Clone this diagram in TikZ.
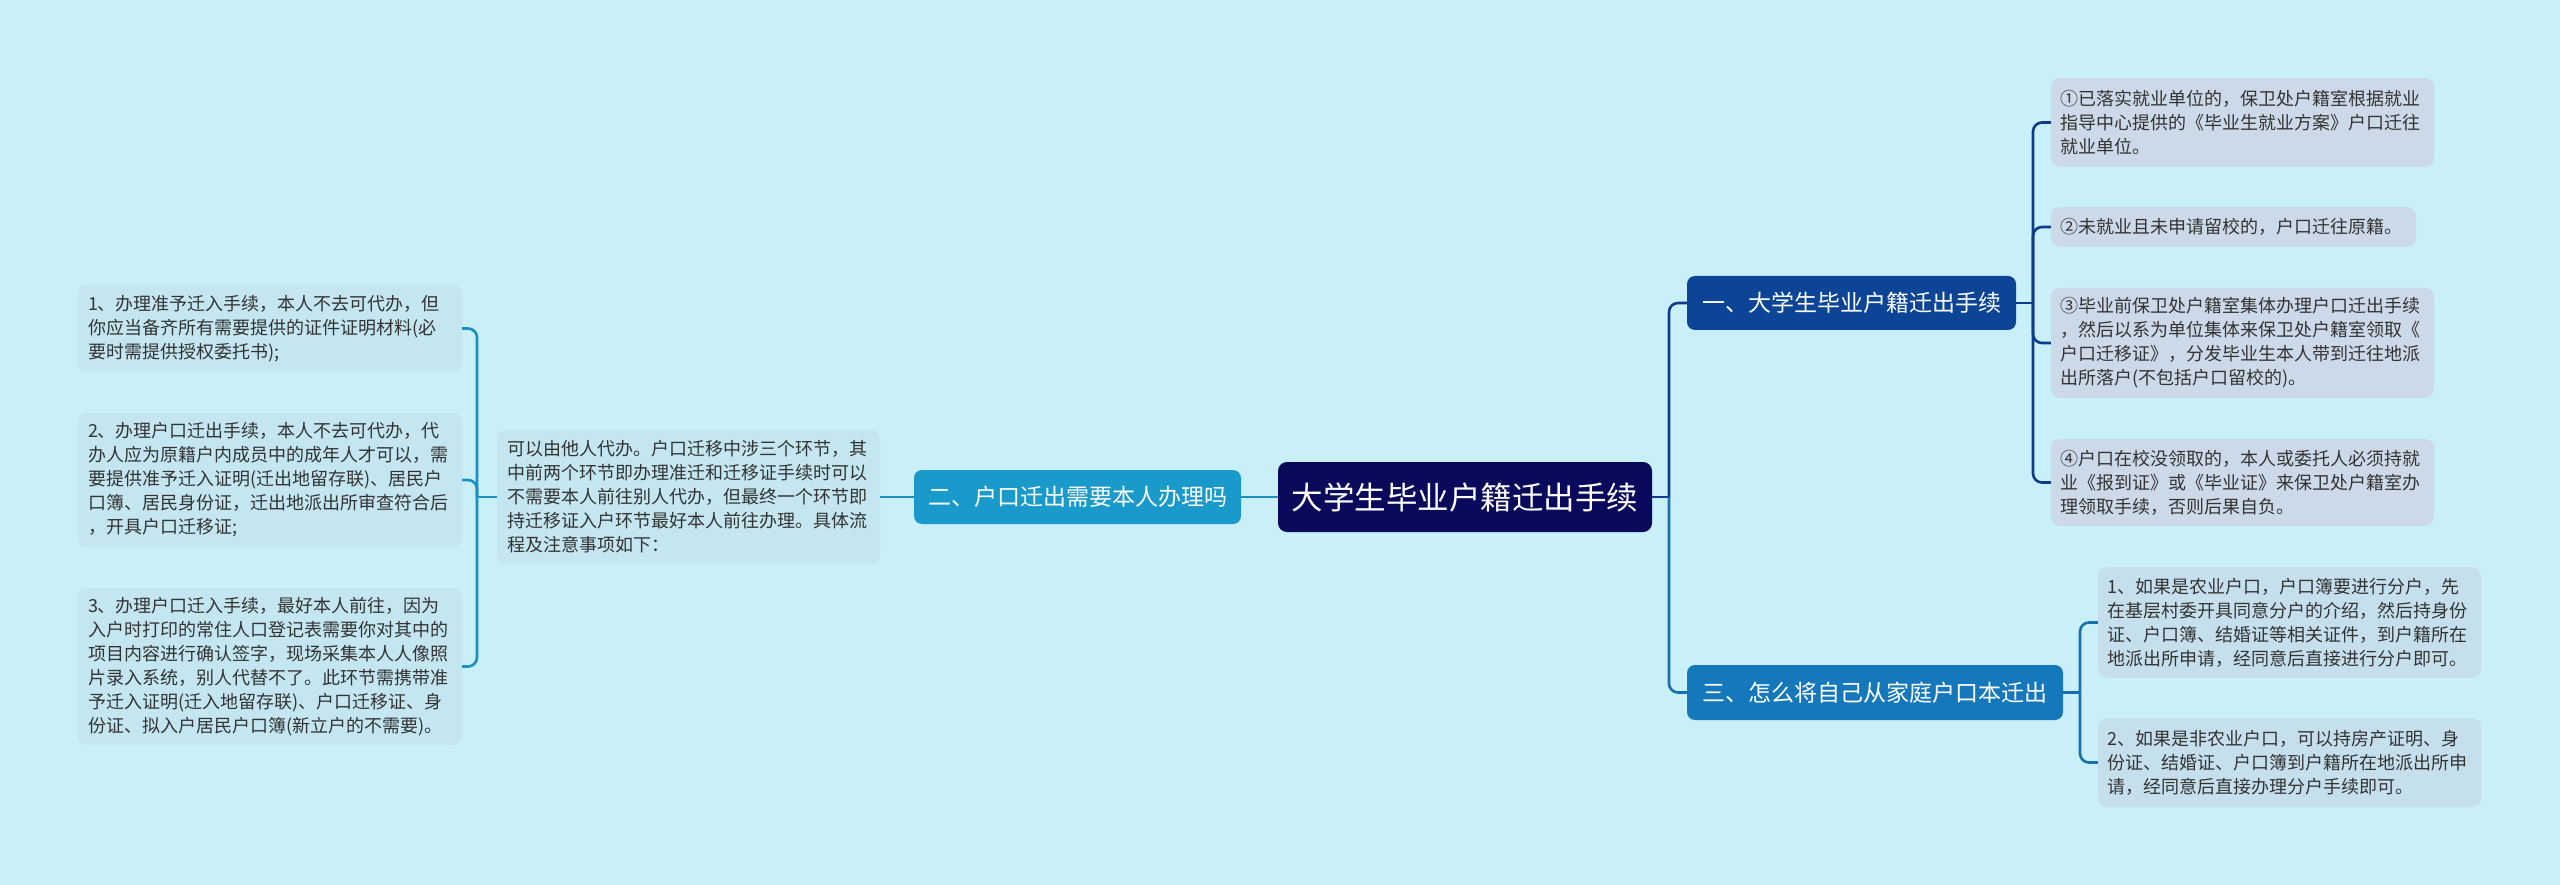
\documentclass[tikz,border=0pt]{standalone}
\usepackage{fontspec}
\setmainfont{Noto Sans CJK SC}
\definecolor{bg}{HTML}{C9EFF8}
\definecolor{cen}{HTML}{0A0A5C}
\definecolor{bone}{HTML}{0C4595}
\definecolor{btwo}{HTML}{1A9ACB}
\definecolor{bthree}{HTML}{1578BB}
\definecolor{lone}{HTML}{0E3C8C}
\definecolor{ltwo}{HTML}{1A8FC0}
\definecolor{lthree}{HTML}{1670AD}
\definecolor{fone}{HTML}{CCD9E8}
\definecolor{ftwo}{HTML}{C3E6F0}
\definecolor{fthree}{HTML}{C5E0EC}
\definecolor{txt}{HTML}{333333}
\tikzset{
  leafbox/.style={rounded corners=9pt, inner xsep=0pt, inner ysep=0pt, align=left,
    font=\fontsize{18}{24}\selectfont, text=txt},
  branchbox/.style={rounded corners=8pt, inner sep=0pt, align=center,
    font=\fontsize{23}{28}\selectfont, text=white},
  conn/.style={line width=2.6pt},
  elbow/.style={line width=2.6pt, rounded corners=9pt},
}
\begin{document}
\begin{tikzpicture}[x=1pt,y=-1pt]
\path[fill=bg] (0,0) rectangle (2560,885);
\useasboundingbox (0,0) rectangle (2560,885);

% central and branches
\node[branchbox, fill=cen, minimum width=374, minimum height=70, font=\fontsize{31.5}{35}\selectfont, rounded corners=9pt] (c) at (1465,497) {大学生毕业户籍迁出手续};
\node[branchbox, fill=btwo, minimum width=327, minimum height=54] (two) at (1077.5,497) {二、户口迁出需要本人办理吗};
\node[branchbox, fill=bone, minimum width=329, minimum height=54] (one) at (1851.5,303) {一、大学生毕业户籍迁出手续};
\node[branchbox, fill=bthree, minimum width=376, minimum height=55] (three) at (1875,692.5) {三、怎么将自己从家庭户口本迁出};

% left side
\node[leafbox, fill=ftwo, minimum width=383, minimum height=134, text width=363] (t) at (688.5,497) {可以由他人代办。户口迁移中涉三个环节，其\\中前两个环节即办理准迁和迁移证手续时可以\\不需要本人前往别人代办，但最终一个环节即\\持迁移证入户环节最好本人前往办理。具体流\\程及注意事项如下：};
\node[leafbox, fill=ftwo, minimum width=384, minimum height=87, text width=364] (l1) at (270,328.5) {1、办理准予迁入手续，本人不去可代办，但\\你应当备齐所有需要提供的证件证明材料(必\\要时需提供授权委托书);};
\node[leafbox, fill=ftwo, minimum width=384, minimum height=134, text width=364] (l2) at (270,480) {2、办理户口迁出手续，本人不去可代办，代\\办人应为原籍户内成员中的成年人才可以，需\\要提供准予迁入证明(迁出地留存联)、居民户\\口簿、居民身份证，迁出地派出所审查符合后\\，开具户口迁移证;};
\node[leafbox, fill=ftwo, minimum width=384, minimum height=157, text width=364] (l3) at (270,666.5) {3、办理户口迁入手续，最好本人前往，因为\\入户时打印的常住人口登记表需要你对其中的\\项目内容进行确认签字，现场采集本人人像照\\片录入系统，别人代替不了。此环节需携带准\\予迁入证明(迁入地留存联)、户口迁移证、身\\份证、拟入户居民户口簿(新立户的不需要)。};

% right upper
\node[leafbox, fill=fone, minimum width=383, minimum height=89, text width=365] (r1) at (2242.5,122.5) {①已落实就业单位的，保卫处户籍室根据就业\\指导中心提供的《毕业生就业方案》户口迁往\\就业单位。};
\node[leafbox, fill=fone, minimum width=365, minimum height=40, text width=347] (r2) at (2233.5,227) {②未就业且未申请留校的，户口迁往原籍。};
\node[leafbox, fill=fone, minimum width=383, minimum height=110, text width=365] (r3) at (2242.5,343) {③毕业前保卫处户籍室集体办理户口迁出手续\\，然后以系为单位集体来保卫处户籍室领取《\\户口迁移证》，分发毕业生本人带到迁往地派\\出所落户(不包括户口留校的)。};
\node[leafbox, fill=fone, minimum width=383, minimum height=87, text width=365] (r4) at (2242.5,482.5) {④户口在校没领取的，本人或委托人必须持就\\业《报到证》或《毕业证》来保卫处户籍室办\\理领取手续，否则后果自负。};

% right lower
\node[leafbox, fill=fthree, minimum width=383, minimum height=111, text width=365] (s1) at (2289.5,622.5) {1、如果是农业户口，户口簿要进行分户，先\\在基层村委开具同意分户的介绍，然后持身份\\证、户口簿、结婚证等相关证件，到户籍所在\\地派出所申请，经同意后直接进行分户即可。};
\node[leafbox, fill=fthree, minimum width=383, minimum height=89, text width=365] (s2) at (2289.5,762.5) {2、如果是非农业户口，可以持房产证明、身\\份证、结婚证、户口簿到户籍所在地派出所申\\请，经同意后直接办理分户手续即可。};

% bracket points
\coordinate (bc) at (1669,497);
\coordinate (b1) at (2033,303);
\coordinate (b3) at (2080,692.5);
\coordinate (bl) at (477,497);

% connectors
\draw[conn, ltwo] (c.west) -- (two.east);
\draw[conn, ltwo] (two.west) -- (t.east);
\draw[conn, lone] (c.east) -- (bc);
\draw[elbow, lone] (bc) |- (one.west);
\draw[elbow, lthree] (bc) |- (three.west);

\draw[conn, lone] (one.east) -- (b1);
\draw[elbow, lone] (b1) |- (r1.west);
\draw[elbow, lone] (b1) |- (r2.west);
\draw[elbow, lone] (b1) |- (r3.west);
\draw[elbow, lone] (b1) |- (r4.west);

\draw[conn, lthree] (three.east) -- (b3);
\draw[elbow, lthree] (b3) |- (s1.west);
\draw[elbow, lthree] (b3) |- (s2.west);

\draw[conn, ltwo] (t.west) -- (bl);
\draw[elbow, ltwo] (bl) |- (l1.east);
\draw[elbow, ltwo] (bl) |- (l2.east);
\draw[elbow, ltwo] (bl) |- (l3.east);
\end{tikzpicture}
\end{document}
